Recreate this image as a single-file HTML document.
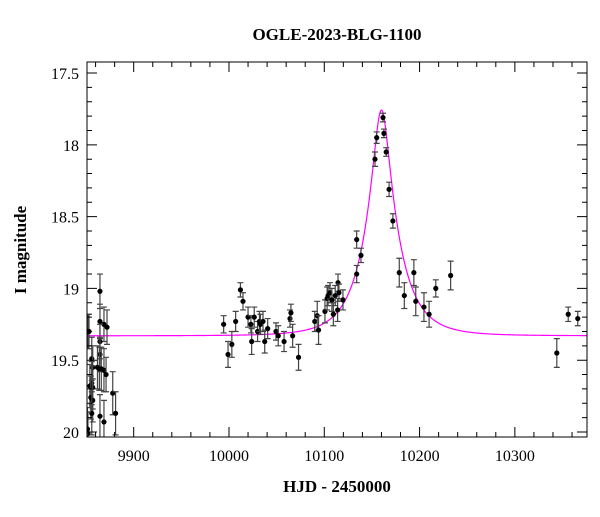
<!DOCTYPE html>
<html><head><meta charset="utf-8"><style>
body{margin:0;background:#fff;}
svg text{font-family:"Liberation Serif",serif;}
</style></head><body>
<svg id="chart" width="600" height="512" xmlns="http://www.w3.org/2000/svg">
<rect width="600" height="512" fill="#fff"/>
<text x="337" y="40" text-anchor="middle" font-size="17" font-weight="bold">OGLE-2023-BLG-1100</text>
<text x="337" y="492" text-anchor="middle" font-size="17" font-weight="bold">HJD - 2450000</text>
<text transform="translate(26,250) rotate(-90)" text-anchor="middle" font-size="17" font-weight="bold">I magnitude</text>
<g id="plot"></g>
</svg>
<script>
const times=[9853.1,9864.6,9864.6,9868.8,9872,9864.6,9856,9864.6,9857,9862,9864,9866,9868.8,9871,9856,9857,9854,9855,9857,9878,9856,9864.6,9868.8,9881,9852,9851.5,9852,
9994.4,9999,10003,10007,10012,10014.7,10020,10023,10023.8,10026.5,10030,10032,10033,10035.7,10037.5,10040.6,10049.3,10051.7,10057.8,10064,10065,10066.8,10073,10090,10092.6,10094,10100.7,10103,10104,10106,10108,10109.5,10111.5,10114,10114.4,10115.4,10119.6,
10153.2,10155,10161.6,10162.6,10165,10168,10172,10134,10138.5,10134,10178.7,10184,10194,10196,10204.6,10210,10217,10232.6,10344,10356,10366];
const mags=[19.30,19.02,19.23,19.25,19.27,19.37,19.49,19.46,19.55,19.55,19.56,19.56,19.57,19.60,19.66,19.69,19.68,19.76,19.78,19.73,19.87,19.89,19.93,19.87,20.01,19.98,19.30,
19.25,19.46,19.39,19.23,19.01,19.09,19.20,19.25,19.37,19.20,19.30,19.23,19.25,19.23,19.37,19.28,19.30,19.33,19.37,19.21,19.17,19.33,19.48,19.23,19.19,19.29,19.16,19.07,19.05,19.03,19.08,19.18,19.05,19.15,18.96,19.03,19.08,
18.10,17.95,17.81,17.92,18.05,18.31,18.53,18.66,18.77,18.90,18.89,19.05,18.89,19.09,19.13,19.18,19.00,18.91,19.45,19.18,19.21];
const errs=[0.12,0.12,0.12,0.12,0.12,0.12,0.15,0.12,0.15,0.15,0.15,0.15,0.15,0.12,0.15,0.15,0.15,0.15,0.15,0.15,0.15,0.15,0.15,0.15,0.15,0.15,0.12,
0.06,0.09,0.09,0.07,0.05,0.06,0.07,0.06,0.09,0.07,0.07,0.07,0.07,0.07,0.08,0.07,0.06,0.07,0.07,0.06,0.06,0.08,0.09,0.07,0.1,0.1,0.08,0.08,0.07,0.07,0.08,0.08,0.07,0.08,0.06,0.06,0.07,
0.05,0.04,0.03,0.03,0.03,0.05,0.05,0.06,0.05,0.06,0.1,0.09,0.09,0.1,0.1,0.09,0.06,0.1,0.1,0.05,0.05];
const xTicks=[9900,10000,10100,10200,10300];
const yTicks=[17.5,18,18.5,19,19.5,20];
const yTickLabels=["17.5","18","18.5","19","19.5","20"];
const model={t0:10160,u0:0.24,tE:34,base:19.33};

const L=87,R=587,T=62,B=437;
const X0=9851,X1=10375.7,Y0=17.423,Y1=20.035;
const sx=t=>L+(t-X0)/(X1-X0)*(R-L);
const sy=m=>T+(m-Y0)/(Y1-Y0)*(B-T);
const NS="http://www.w3.org/2000/svg";
const g=document.getElementById('plot');
function mk(tag,attrs,parent){const e=document.createElementNS(NS,tag);for(const k in attrs)e.setAttribute(k,attrs[k]);(parent||g).appendChild(e);return e;}

// model curve
let d="";
for(let t=X0;t<=X1;t+=0.5){const u=Math.sqrt(model.u0**2+((t-model.t0)/model.tE)**2);const A=(u*u+2)/(u*Math.sqrt(u*u+4));const m=model.base-2.5*Math.log10(A);d+=(d?"L":"M")+sx(t).toFixed(2)+","+sy(m).toFixed(2);}
const clip=mk('clipPath',{id:'pc'});mk('rect',{x:L,y:T,width:R-L,height:B-T},clip);
const curve=mk('path',{d:d,fill:'none',stroke:'#ff00ff','stroke-width':1.2,'clip-path':'url(#pc)'});



// points
const pts=mk('g',{'clip-path':'url(#pc)'});


for(let i=0;i<times.length;i++){
 const x=sx(times[i]),y=sy(mags[i]),y1=sy(mags[i]-errs[i]),y2=sy(mags[i]+errs[i]);
 const eb=mk('path',{d:`M${x},${y1}V${y2}M${x-3},${y1}H${x+3}M${x-3},${y2}H${x+3}`,stroke:'#444','stroke-width':1.2,fill:'none'},pts);
 
 
 const c=mk('circle',{cx:x,cy:y,r:2.6,fill:'#000'},pts);
 
 
}

// frame
const fr=mk('rect',{x:L,y:T,width:R-L,height:B-T,fill:'none',stroke:'#000','stroke-width':1});



// ticks
let tk="";
for(let t=9860;t<=X1;t+=20){const x=sx(t);const major=xTicks.includes(t);const l=major?10:5;tk+=`M${x},${B}v${-l}M${x},${T}v${l}`;}
for(let m=17.5;m<=20.001;m+=0.1){const y=sy(m);const major=Math.abs(m*2-Math.round(m*2))<1e-6;const l=major?10:5;tk+=`M${L},${y}h${l}M${R},${y}h${-l}`;}
const ticks=mk('path',{d:tk,stroke:'#000','stroke-width':1,fill:'none'});


xTicks.forEach(t=>{const e=mk('text',{x:sx(t),y:B+24,'text-anchor':'middle','font-size':16});e.textContent=t;
 
 });
yTicks.forEach((m,i)=>{const e=mk('text',{x:L-8,y:sy(m)+6,'text-anchor':'end','font-size':16});e.textContent=yTickLabels[i];
 
 });
</script>
</body></html>
